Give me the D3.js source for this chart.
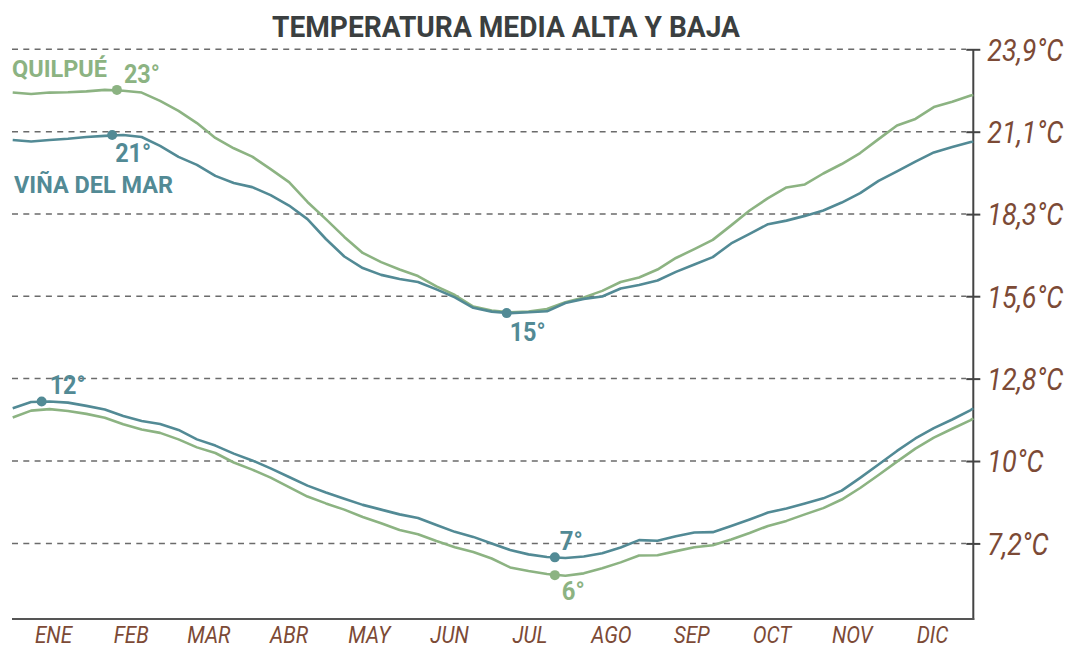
<!DOCTYPE html>
<html>
<head>
<meta charset="utf-8">
<script src="https://cdn.jsdelivr.net/npm/d3@7"></script>
<style>
  body { margin: 0; background: #fff; }
  svg text { font-family: Roboto, "Noto Sans", sans-serif; }
</style>
</head>
<body>
<svg id="chart" width="1074" height="648"></svg>
<script>
// day of year for each reading
const days = [0,7,14,21,28,35,42,49,56,63,70,77,84,91,98,105,112,119,126,133,140,147,154,161,168,175,182,189,196,203,210,217,224,231,238,245,252,259,266,273,280,287,294,301,308,315,322,329,336,343,350,357,364,365];

// highs / lows in °C
const quilpueHigh = [22.43,22.38,22.43,22.44,22.47,22.52,22.49,22.43,22.15,21.81,21.40,20.90,20.55,20.27,19.85,19.41,18.74,18.16,17.56,17.02,16.71,16.46,16.24,15.89,15.60,15.21,15.08,15.02,15.04,15.13,15.36,15.52,15.74,16.04,16.19,16.46,16.85,17.15,17.46,17.95,18.45,18.87,19.23,19.33,19.70,20.02,20.39,20.86,21.32,21.54,21.94,22.12,22.33,22.35];
const vinaHigh = [20.83,20.78,20.83,20.87,20.93,20.97,21.00,20.93,20.63,20.26,19.99,19.62,19.38,19.24,18.97,18.62,18.16,17.49,16.90,16.51,16.28,16.14,16.04,15.79,15.52,15.17,15.04,14.99,15.02,15.05,15.33,15.47,15.55,15.82,15.94,16.09,16.38,16.63,16.88,17.34,17.66,17.99,18.11,18.27,18.45,18.72,19.04,19.45,19.77,20.10,20.41,20.59,20.76,20.77];
const vinaLow = [11.78,11.99,12.01,11.97,11.86,11.74,11.52,11.35,11.25,11.05,10.73,10.52,10.25,10.02,9.75,9.46,9.17,8.94,8.73,8.52,8.36,8.20,8.08,7.84,7.61,7.44,7.22,7.00,6.85,6.76,6.73,6.78,6.89,7.08,7.33,7.31,7.46,7.59,7.60,7.81,8.03,8.26,8.40,8.57,8.74,9.00,9.43,9.88,10.34,10.76,11.11,11.40,11.72,11.78];
const quilpueLow = [11.47,11.70,11.75,11.69,11.59,11.46,11.24,11.06,10.95,10.73,10.46,10.27,9.95,9.71,9.44,9.12,8.80,8.57,8.36,8.11,7.90,7.67,7.53,7.30,7.09,6.93,6.71,6.41,6.29,6.19,6.13,6.21,6.38,6.58,6.81,6.82,6.96,7.09,7.16,7.35,7.57,7.81,7.98,8.20,8.41,8.70,9.09,9.53,9.98,10.42,10.79,11.09,11.38,11.44];

const months = ["ENE","FEB","MAR","ABR","MAY","JUN","JUL","AGO","SEP","OCT","NOV","DIC"];
const monthMid = [15.5,45,74.5,105,135.5,166,196.5,227.5,258,288.5,319,349.5];

const tempTicks = [7.22,10,12.78,15.56,18.33,21.11,23.89];
const tempLabels = ["7,2°C","10°C","12,8°C","15,6°C","18,3°C","21,1°C","23,9°C"];

// highlighted extremes: [day, value, label, series]
const marks = [
  [39.6, 22.52, "23°", "q"],
  [37.8, 21.00, "21°", "v"],
  [187.7, 14.99, "15°", "v"],
  [11, 12.01, "12°", "v"],
  [206, 6.75, "7°", "v"],
  [206, 6.15, "6°", "q"]
];

const green = "#8cb382", teal = "#528a95", brown = "#7c4a36";

const svg = d3.select("#chart");
const x = d3.scaleLinear().domain([0, 365]).range([12.7, 973.3]);
const y = d3.scaleLinear().domain([4.67, 23.89]).range([619, 49.3]);

// grid
svg.append("g").selectAll("line")
  .data(tempTicks).enter().append("line")
  .attr("x1", 12).attr("x2", 966)
  .attr("y1", d => y(d)).attr("y2", d => y(d))
  .attr("stroke", "#6b6b6b").attr("stroke-width", 1.5)
  .attr("stroke-dasharray", "6,5.3");

// right axis
const yAxis = d3.axisRight(y).tickValues(tempTicks)
  .tickFormat((d, i) => tempLabels[i]).tickSize(7).tickPadding(8);
const ag = svg.append("g").attr("transform", "translate(973.3,0)").call(yAxis);
ag.select(".domain").remove();
ag.selectAll(".tick line").attr("x1", -7).attr("x2", 7)
  .attr("stroke", "#444").attr("stroke-width", 2);
ag.selectAll(".tick text")
  .attr("fill", brown).attr("font-size", 31).attr("font-style", "italic")
  .attr("font-weight", 400).attr("dy", "0.35em")
  .attr("transform", "scale(0.87,1)").attr("x", 14 / 0.87);

svg.append("line").attr("x1", 973.3).attr("x2", 973.3)
  .attr("y1", y(23.89)).attr("y2", 620)
  .attr("stroke", "#444").attr("stroke-width", 2);
svg.append("line").attr("x1", 12).attr("x2", 974.3)
  .attr("y1", 619).attr("y2", 619)
  .attr("stroke", "#555").attr("stroke-width", 2);

// month labels
svg.append("g").selectAll("text")
  .data(months).enter().append("text")
  .attr("transform", (d, i) => "translate(" + x(monthMid[i]) + ",643) scale(0.9,1)")
  .attr("text-anchor", "middle")
  .attr("fill", brown).attr("font-size", 23).attr("font-style", "italic")
  .attr("font-weight", 400)
  .text(d => d);

// lines
const line = d3.line().x((d, i) => x(days[i])).y(d => y(d));
[[quilpueLow, green], [vinaLow, teal], [quilpueHigh, green], [vinaHigh, teal]].forEach(s => {
  svg.append("path").datum(s[0])
    .attr("d", line)
    .attr("fill", "none")
    .attr("stroke", s[1]).attr("stroke-width", 2.6)
    .attr("stroke-linejoin", "round");
});

// dots + value labels
const offsets = [[7, -6.5], [3, 27.5], [3, 28], [8, -7], [5, -7], [7, 25]];
marks.forEach((m, i) => {
  const c = m[3] === "q" ? green : teal;
  svg.append("circle").attr("cx", x(m[0])).attr("cy", y(m[1])).attr("r", 5).attr("fill", c);
  svg.append("text")
    .attr("x", x(m[0]) + offsets[i][0]).attr("y", y(m[1]) + offsets[i][1])
    .attr("fill", c).attr("font-size", 25).attr("font-weight", 700)
    .attr("textLength", m[2].length === 3 ? 36 : 23).attr("lengthAdjust", "spacingAndGlyphs")
    .text(m[2]);
});

// series names
svg.append("text").attr("x", 12).attr("y", 77)
  .attr("fill", green).attr("font-size", 24).attr("font-weight", 700)
  .attr("textLength", 95).attr("lengthAdjust", "spacingAndGlyphs")
  .text("QUILPUÉ");
svg.append("text").attr("x", 14).attr("y", 193)
  .attr("fill", teal).attr("font-size", 24).attr("font-weight", 700)
  .attr("textLength", 159).attr("lengthAdjust", "spacingAndGlyphs")
  .text("VIÑA DEL MAR");

// title
svg.append("text").attr("x", 272).attr("y", 37)
  .attr("fill", "#3b3f40").attr("font-size", 29).attr("font-weight", 700)
  .attr("textLength", 468).attr("lengthAdjust", "spacingAndGlyphs")
  .text("TEMPERATURA MEDIA ALTA Y BAJA");
</script>
</body>
</html>
